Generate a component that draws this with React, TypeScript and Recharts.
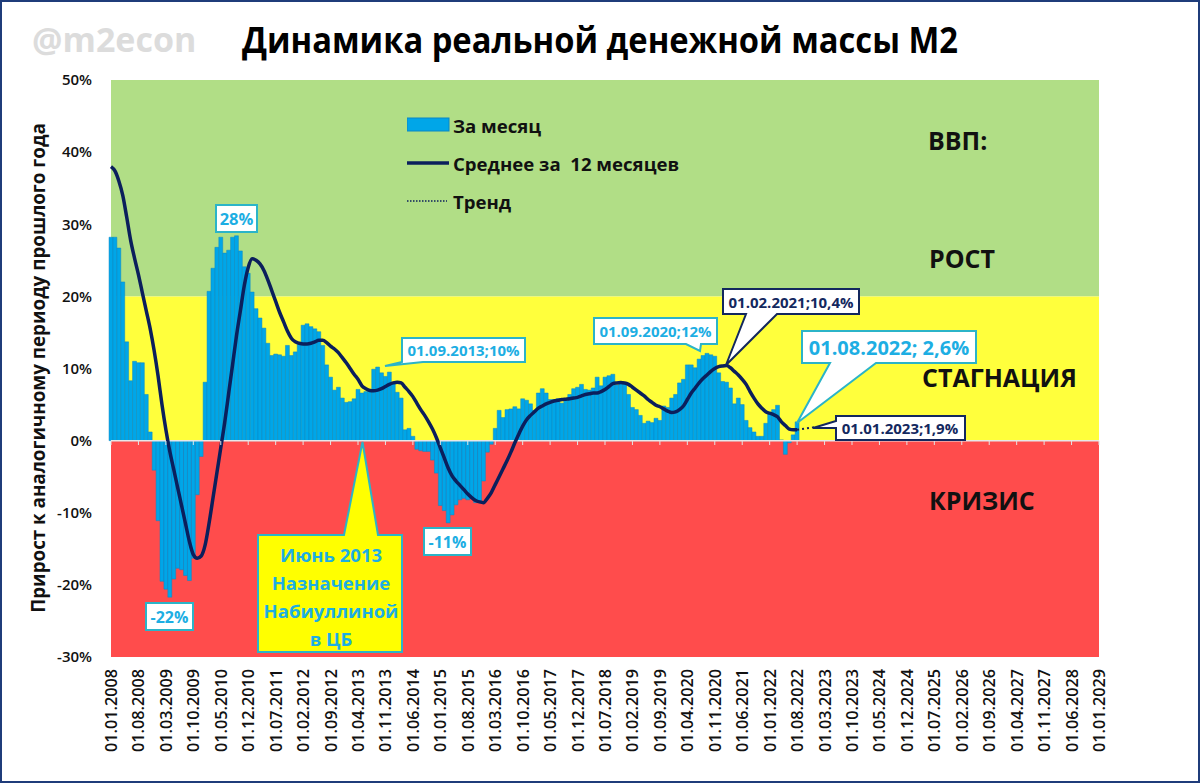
import {
  ComposedChart,
  Bar,
  Line,
  XAxis,
  YAxis,
  ReferenceArea,
  ReferenceLine,
  Legend,
} from 'recharts';

// monthly real M2 growth, % y/y, 01.2008 - 08.2022
const monthly = [
  28.2, 28.2, 26.7, 22, 13.7, 8.3, 11, 10.8, 10.8, 6.4, 1.2, -4.1,
  -11.1, -19.5, -20.6, -21.7, -19.2, -17.7, -17.9, -18.7, -19.4, -16.3, -7.5, -2.2,
  8.1, 20.7, 23.9, 26.8, 28.2, 26, 26.4, 28.2, 28.4, 26.3, 24.1, 23.2,
  20.6, 18.3, 17, 15.6, 13.5, 11.8, 12, 11.9, 11.7, 13.2, 11.8, 12.3,
  13.5, 16, 16.2, 15.8, 15.5, 15.1, 13.2, 10.5, 8.8, 7, 7.4, 5.9,
  5.3, 5.4, 5.8, 7.1, 6.6, 6.8, 7.1, 9.9, 10.2, 9.4, 8.9, 9.5,
  7.9, 6.7, 5.9, 1.5, 1.7, 0.6, -1.2, -1.4, -1.5, -1.5, -2.7, -4.5,
  -9, -9.7, -11.4, -10.3, -8.9, -8.2, -8, -8.2, -8, -8.6, -8.4, -5.6,
  -1.6, -0.5, 1.7, 4.2, 3.2, 4.3, 4.4, 4.7, 4.4, 5.8, 5.6, 5.1,
  4.2, 6.6, 7.2, 6.6, 5.7, 5.7, 5.8, 5.2, 5.7, 6.4, 7.2, 7.4,
  7.8, 7.1, 7, 7.3, 8.8, 7.6, 8.8, 9, 9.2, 7.7, 8, 8,
  6.4, 4.6, 4.3, 3.5, 2.4, 2.7, 2.5, 3.1, 2.8, 4.8, 4.6, 5.9,
  6.4, 8, 8.5, 10.5, 10.5, 10.1, 11.3, 11.8, 12.1, 11.9, 11.7, 9.4,
  8.2, 8.1, 7.3, 5.1, 5.9, 5, 2.8, 1.8, 1.2, 0.6, 0.6, 2.4,
  3.8, 4.3, 4.9, 0.1, -1.9, -0.3, 0.8, 2.6,
];

// 12 month average
const average = [
  38, 37.4, 36, 34, 31, 27.8, 25.3, 23, 20.5, 18, 15.5, 12.5,
  9, 5, 1.5, -1.5, -4, -6.5, -9, -11.5, -14, -15.8, -16.3, -16,
  -14.5, -11.5, -8, -4.5, -1, 2.5, 6.5, 10.5, 14.5, 18, 21.5, 24,
  25.2, 25, 24.5, 23.6, 22.3, 20.8, 19.3, 17.8, 16.5, 15.2, 14.2, 13.7,
  13.5, 13.4, 13.4, 13.5, 13.7, 13.9, 13.9, 13.6, 13.1, 12.7, 12.2, 11.5,
  10.8, 10, 9.2, 8.5, 7.6, 7.2, 6.95, 6.9, 7, 7.2, 7.5, 7.8,
  8, 8.1, 8, 7.4, 6.8, 6.1, 5.2, 4.3, 3.5, 2.6, 1.6, 0.4,
  -1, -2.4, -3.8, -4.9, -5.6, -6.2, -6.8, -7.4, -7.9, -8.3, -8.5, -8.6,
  -8, -7.2, -6.1, -5, -3.9, -2.8, -1.6, -0.3, 0.9, 2, 2.9, 3.5,
  4, 4.5, 4.8, 5.1, 5.3, 5.5, 5.6, 5.7, 5.75, 5.8, 5.9, 6,
  6.2, 6.4, 6.5, 6.6, 6.6, 6.8, 7.1, 7.5, 7.9, 8, 8.05, 8,
  7.8, 7.4, 7, 6.6, 6.2, 5.7, 5.3, 4.9, 4.7, 4.4, 4.1, 3.9,
  4, 4.3, 4.8, 5.7, 6.6, 7.3, 8, 8.6, 9.1, 9.6, 10, 10.25,
  10.35, 10.4, 10.1, 9.6, 9.1, 8.5, 7.8, 6.8, 5.9, 5.1, 4.5, 4,
  3.8, 3.6, 3.3, 2.6, 2.1, 1.6, 1.5, 1.5,
];

// dotted trend: 01.08.2022 -> 01.01.2023
const trendPoints: Record<number, number> = { 175: 1.5, 180: 1.9 };

const yTicks = [50, 40, 30, 20, 10, 0, -10, -20, -30];

const dates: string[] = [];
for (let y = 2008; y <= 2029; y++) {
  for (let m = 1; m <= 12; m++) {
    if (y === 2029 && m > 1) break;
    dates.push(`01.${String(m).padStart(2, '0')}.${y}`);
  }
}

const rows = dates.map((date, i) => ({
  date,
  monthly: monthly[i],
  average: average[i],
  trend: trendPoints[i],
}));

const FONT = '"Open Sans", "Noto Sans", sans-serif';
const CYAN = '#1DAEE3';
const TEAL = '#2BB4C8';
const NAVY = '#13285E';
const LINE_NAVY = '#0B1F5C';

const DateTick = ({ x, y, payload }: any) => (
  <g>
    <line x1={x} x2={x} y1={y - 216} y2={y - 212} stroke="#E4E4E4" strokeWidth={1} />
    <text
      x={x}
      y={y + 12}
      transform={`rotate(-90 ${x} ${y + 12})`}
      textAnchor="end"
      dominantBaseline="central"
      fontFamily={FONT}
      fontWeight={600}
      fontSize={16.2}
      fill="#111"
    >
      {payload.value}
    </text>
  </g>
);

const LegendBox = ({ payload }: any) => (
  <div style={{ fontFamily: FONT, fontWeight: 700, fontSize: 18.6, color: '#111' }}>
    {(payload || []).map((p: any) => (
      <div key={p.value} style={{ display: 'flex', alignItems: 'center', height: 38 }}>
        <svg width={46} height={16}>
          {p.value === 'За месяц' && <rect x={0} y={1} width={42} height={13} fill="#00A6E8" stroke="#0B86C4" />}
          {p.value === 'Среднее за  12 месяцев' && <line x1={0} x2={42} y1={8} y2={8} stroke={LINE_NAVY} strokeWidth={3.5} />}
          {p.value === 'Тренд' && <line x1={0} x2={40} y1={8} y2={8} stroke={LINE_NAVY} strokeWidth={1.5} strokeDasharray="1.5 1.5" />}
        </svg>
        <span style={{ whiteSpace: 'pre' }}>{p.value}</span>
      </div>
    ))}
  </div>
);

type CalloutProps = {
  points: string;
  lines: string[];
  cx: number;
  cy: number;
  size: number;
  color?: string;
  border?: string;
  fill?: string;
  step?: number;
};

const Callout = ({ points, lines, cx, cy, size, color = CYAN, border = TEAL, fill = '#fff', step = 28 }: CalloutProps) => (
  <g>
    <polygon points={points} fill={fill} stroke={border} strokeWidth={2} />
    {lines.map((t, i) => (
      <text
        key={t}
        x={cx}
        y={cy + i * step}
        textAnchor="middle"
        dominantBaseline="central"
        fontFamily={FONT}
        fontWeight={700}
        fontSize={size}
        fill={color}
      >
        {t}
      </text>
    ))}
  </g>
);

const Zone = ({ x, y, children }: { x: number; y: number; children: string }) => (
  <text x={x} y={y} dominantBaseline="central" fontFamily={FONT} fontWeight={700} fontSize={25} fill="#111">
    {children}
  </text>
);

const App = () => (
  <div
    style={{
      position: 'absolute',
      left: 0,
      top: 0,
      width: 1200,
      height: 783,
      background: '#fff',
      boxSizing: 'border-box',
      border: '2px solid #1F3C7A',
      overflow: 'hidden',
    }}
  >
    <div style={{ position: 'absolute', left: -2, top: -2 }}>
      <ComposedChart
        width={1200}
        height={783}
        data={rows}
        barGap={0}
        margin={{ top: 80, right: 101, left: 51, bottom: 26 }}
      >
        <ReferenceArea y1={20} y2={50} fill="#B1DE86" fillOpacity={1} stroke="none" />
        <ReferenceArea y1={0} y2={20} fill="#FFFF3C" fillOpacity={1} stroke="none" />
        <ReferenceArea y1={-30} y2={0} fill="#FF4C4C" fillOpacity={1} stroke="none" />
        <XAxis
          dataKey="date"
          scale="point"
          interval={6}
          height={100}
          tick={<DateTick />}
          tickLine={false}
          axisLine={false}
          tickSize={0}
          tickMargin={0}
        />
        <YAxis
          domain={[-30, 50]}
          ticks={yTicks}
          width={60}
          tickFormatter={(v: number) => `${v}%`}
          tick={{ fontFamily: FONT, fontWeight: 600, fontSize: 15, fill: '#111' }}
          tickLine={false}
          axisLine={false}
          tickSize={0}
          tickMargin={19}
        />
        <ReferenceLine y={0} stroke="#E8E8E8" strokeWidth={1.5} />
        <Legend
          layout="vertical"
          align="center"
          verticalAlign="middle"
          content={<LegendBox />}
          wrapperStyle={{ left: 407, top: 106, width: 320, height: 116 }}
        />
        <Bar
          dataKey="monthly"
          name="За месяц"
          barSize={3.91}
          fill="#00A6E8"
          stroke="#0B86C4"
          strokeWidth={0.5}
          isAnimationActive={false}
        />
        <Line
          dataKey="average"
          name="Среднее за  12 месяцев"
          type="monotone"
          stroke={LINE_NAVY}
          strokeWidth={3.5}
          dot={false}
          isAnimationActive={false}
        />
        <Line
          dataKey="trend"
          name="Тренд"
          type="linear"
          connectNulls
          stroke={LINE_NAVY}
          strokeWidth={2}
          strokeDasharray="2 3"
          dot={false}
          isAnimationActive={false}
        />
      </ComposedChart>

      <svg width={1200} height={783} style={{ position: 'absolute', left: 0, top: 0, pointerEvents: 'none' }}>
        <text x={32} y={39} dominantBaseline="central" fontFamily={FONT} fontWeight={700} fontSize={34} fill="#DCDCDC">
          @m2econ
        </text>
        <text
          x={600}
          y={39}
          textAnchor="middle"
          dominantBaseline="central"
          fontFamily={FONT}
          fontWeight={700}
          fontSize={35}
          textLength={716}
          lengthAdjust="spacingAndGlyphs"
          fill="#000"
        >
          Динамика реальной денежной массы М2
        </text>
        <text
          x={38}
          y={368}
          transform="rotate(-90 38 368)"
          textAnchor="middle"
          dominantBaseline="central"
          fontFamily={FONT}
          fontWeight={700}
          fontSize={18.8}
          fill="#111"
        >
          Прирост к аналогичному периоду прошлого года
        </text>

        <Zone x={928} y={140}>ВВП:</Zone>
        <Zone x={929} y={258}>РОСТ</Zone>
        <Zone x={922} y={377}>СТАГНАЦИЯ</Zone>
        <Zone x={929} y={500}>КРИЗИС</Zone>

        <Callout points="216,205 257,205 257,232 216,232" lines={['28%']} cx={236.5} cy={218} size={16.5} />
        <Callout points="146,603 193,603 193,630 146,630" lines={['-22%']} cx={169.5} cy={617} size={16} />
        <Callout points="424,528 471,528 471,555 424,555" lines={['-11%']} cx={447.5} cy={542} size={16} />
        <Callout
          points="258,535 344,535 362.5,442 378,535 402,535 402,652 258,652"
          lines={['Июнь 2013', 'Назначение', 'Набиуллиной', 'в ЦБ']}
          cx={331}
          cy={554}
          size={18.5}
          fill="#FFFF00"
        />
        <Callout
          points="402,338 525,338 525,362 423,362 385,366 402,362"
          lines={['01.09.2013;10%']}
          cx={463.5}
          cy={350}
          size={15}
        />
        <Callout
          points="594,318 717,318 717,344 701,344 700,351 686,344 594,344"
          lines={['01.09.2020;12%']}
          cx={655.5}
          cy={331}
          size={15}
        />
        <Callout
          points="723,289 859,289 859,314 777,314 726,365 746,314 723,314"
          lines={['01.02.2021;10,4%']}
          cx={791}
          cy={301.5}
          size={15}
          color={NAVY}
          border={NAVY}
        />
        <Callout
          points="802,331 976,331 976,363 876,363 797,423 830,363 802,363"
          lines={['01.08.2022; 2,6%']}
          cx={889}
          cy={347}
          size={20}
        />
        <Callout
          points="836,416 965,416 965,440 836,440 836,428 813,428 836,421"
          lines={['01.01.2023;1,9%']}
          cx={900}
          cy={428}
          size={15}
          color={NAVY}
          border={NAVY}
        />
      </svg>
    </div>
  </div>
);

export default App;
